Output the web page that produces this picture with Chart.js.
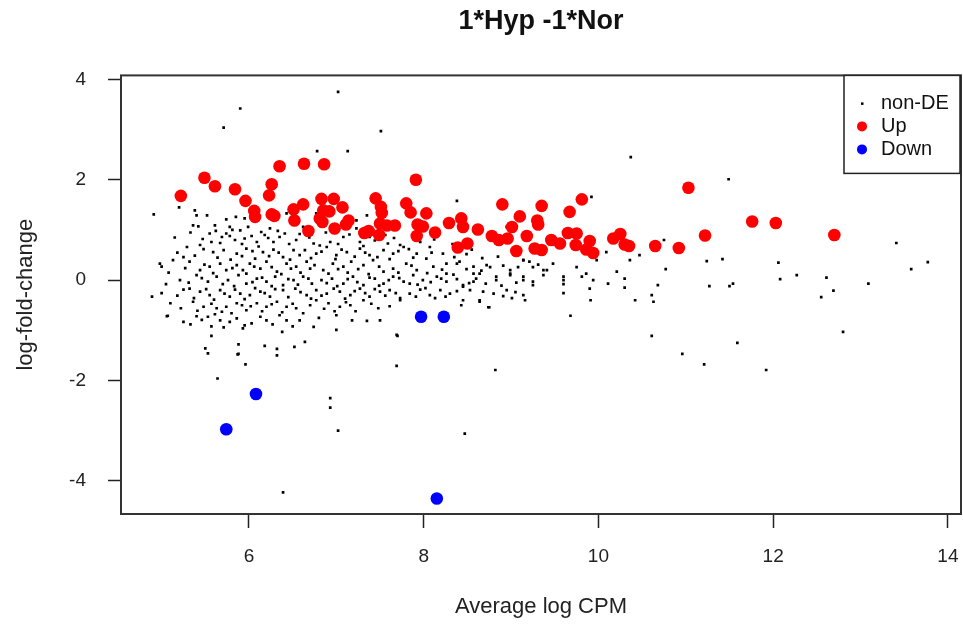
<!DOCTYPE html>
<html>
<head>
<meta charset="utf-8">
<script src="https://cdn.jsdelivr.net/npm/chart.js@4.4.0/dist/chart.umd.min.js"></script>
<style>
  body { margin: 0; background: #fff; }
  #wrap { width: 963px; height: 624px; }
</style>
</head>
<body>
<div id="wrap"><canvas id="myChart" width="963" height="624"></canvas></div>
<script>
// values: [average log CPM, log-fold-change]
const nonDePoints = [
  [4.91,1.31],[5.20,1.45],[5.38,1.39],[5.40,1.29],[5.52,1.29],[5.74,1.21],[5.85,1.26],[5.95,1.23],[6.08,1.19],[6.24,1.23],[6.43,1.33],[6.77,1.33],[7.35,1.29],[7.23,1.19],
  [5.36,1.09],[5.42,1.07],[5.61,1.09],[5.78,1.06],[5.90,0.99],[5.99,1.06],[6.14,0.96],[6.24,1.03],[6.41,0.93],[5.55,0.93],[5.74,0.93],[6.62,1.06],[7.23,1.03],[7.56,0.90],[8.95,1.06],
  [5.29,0.66],[5.44,0.70],[5.57,0.76],[5.67,0.74],[5.78,0.88],[5.84,0.80],[5.95,0.83],[6.09,0.76],[6.18,0.90],[6.28,0.76],[6.35,0.86],[6.54,0.80],[6.74,0.73],[6.93,0.76],[7.08,0.86],[7.27,0.76],[7.38,0.86],[7.59,0.73],[7.73,0.70],[7.96,0.76],[8.07,0.66],
  [5.13,0.40],[5.25,0.46],[5.59,0.56],[5.71,0.60],[5.86,0.53],[5.97,0.63],[6.07,0.43],[6.16,0.56],[6.28,0.61],[6.39,0.46],[6.51,0.60],[6.64,0.60],[6.77,0.53],[6.89,0.66],[7.00,0.50],[7.12,0.56],[7.27,0.63],[7.38,0.50],[7.54,0.60],[7.65,0.53],[7.77,0.66],[7.92,0.53],[8.03,0.43],[8.22,0.53],[9.14,0.40],[9.21,0.37],
  [4.98,0.33],[5.00,0.27],[5.32,0.37],[5.44,0.20],[5.55,0.27],[5.67,0.33],[5.74,0.20],[5.86,0.30],[5.93,0.20],[6.01,0.33],[6.13,0.23],[6.20,0.37],[6.32,0.17],[6.43,0.33],[6.54,0.27],[6.66,0.37],[6.75,0.30],[6.85,0.20],[6.96,0.33],[7.08,0.27],[7.17,0.37],[7.31,0.30],[7.42,0.40],[7.54,0.17],[7.65,0.23],[7.80,0.33],[7.92,0.20],[8.11,0.27],[8.26,0.33],[8.41,0.37],[8.57,0.27],[8.72,0.30],[8.99,0.20],[9.37,0.20],
  [5.21,0.00],[5.40,0.10],[5.53,-0.03],[5.63,0.07],[5.76,0.00],[5.88,0.10],[5.97,-0.07],[6.09,0.03],[6.20,-0.03],[6.30,0.07],[6.39,-0.10],[6.51,0.00],[6.62,0.07],[6.72,-0.07],[6.83,0.00],[6.95,0.03],[7.08,-0.07],[7.19,0.07],[7.31,-0.10],[7.44,0.03],[7.54,-0.07],[7.65,0.07],[7.77,-0.03],[7.88,0.10],[7.99,0.00],[8.15,0.07],[8.26,-0.03],[8.45,-0.10],[8.60,0.03],[8.83,0.00],[8.99,0.10],[9.14,0.00],[9.25,-0.03],
  [4.89,-0.33],[5.25,-0.19],[5.32,-0.17],[5.44,-0.23],[5.55,-0.30],[5.67,-0.20],[5.78,-0.33],[5.90,-0.27],[6.01,-0.30],[6.13,-0.23],[6.24,-0.33],[6.39,-0.20],[6.53,-0.17],[6.66,-0.30],[6.77,-0.20],[6.89,-0.27],[7.04,-0.23],[7.16,-0.30],[7.27,-0.17],[7.38,-0.33],[7.50,-0.23],[7.61,-0.20],[7.73,-0.36],[7.84,-0.27],[7.96,-0.19],[8.07,-0.30],[8.19,-0.20],[8.30,-0.27],[8.45,-0.13],[8.53,-0.20],[8.68,-0.23],[8.95,-0.20],[9.14,-0.30],
  [5.10,-0.46],[5.36,-0.43],[5.48,-0.53],[5.63,-0.56],[5.74,-0.53],[5.86,-0.46],[5.97,-0.60],[6.09,-0.46],[6.20,-0.53],[6.32,-0.43],[6.43,-0.53],[6.54,-0.56],[6.77,-0.40],[6.91,-0.46],[7.04,-0.53],[7.16,-0.50],[7.31,-0.40],[7.48,-0.56],[8.45,-0.40],[8.64,-0.40],[8.74,-0.54],
  [5.06,-0.72],[5.25,-0.83],[5.40,-0.72],[5.53,-0.73],[5.67,-0.80],[5.78,-0.83],[5.95,-0.90],[6.13,-0.73],[6.20,-0.80],[6.35,-0.70],[6.43,-0.80],[6.58,-0.80],[7.00,-0.70],[7.35,-0.81],[7.50,-0.80],
  [5.57,-0.92],[5.57,-1.11],[5.71,-0.94],[5.93,-0.96],[6.38,-1.03],[6.74,-0.93],[7.00,-0.99],[7.69,-1.09],
  [5.50,-1.36],[5.53,-1.46],[5.88,-1.28],[5.88,-1.47],[6.18,-1.31],[6.32,-1.37],[6.32,-1.50],[6.52,-1.33],[6.64,-1.23],
  [7.02,3.75],[5.90,3.42],[5.71,3.04],[7.51,2.97],[6.78,2.57],[7.13,2.57],[10.37,2.45],[11.49,2.01],[8.38,1.58],[9.92,1.66],
  [10.09,0.56],[10.21,0.17],[10.47,0.50],[10.75,0.80],[10.77,0.22],[10.68,-0.10],[10.30,0.03],[9.86,0.13],[9.94,0.00],[9.60,0.07],[9.41,0.20],[9.60,-0.26],[9.60,-0.08],[9.91,-0.40],[10.30,-0.15],[10.42,-0.40],[10.63,-0.43],[10.61,-0.30],[9.68,-0.71],[10.61,-1.11],[10.96,-1.47],
  [7.70,-1.11],[7.69,-1.71],[8.82,-1.79],[8.47,-3.06],[8.75,-0.54],[8.64,-0.43],[8.43,-0.50],[5.64,-1.96],[5.96,-1.68],[5.87,-1.48],[6.93,-2.35],[6.93,-2.54],[7.02,-3.00],[6.39,-4.23],[5.00,-0.26],[5.07,-0.71],
  [11.27,-0.12],[11.50,-0.12],[11.54,-0.07],[12.08,0.02],[12.27,0.10],[12.61,0.05],[12.69,-0.21],[12.55,-0.34],[13.09,-0.07],[12.80,-1.03],[11.59,-1.25],[11.21,-1.68],[11.92,-1.79],
  [13.41,0.74],[13.77,0.36],[13.58,0.22],[11.24,0.38],[11.42,0.42],[12.06,0.35],
  [9.90,-0.17],[10.11,-0.07],[9.81,0.07],[8.91,-0.32],[9.01,-0.36],[9.16,-0.40],[9.25,-0.10],[9.60,0.00],[9.37,0.10],[9.14,0.07],[8.64,0.13],[8.57,-0.03],[8.13,-0.36],[7.73,-0.40],[7.84,-0.07],
  [10.36,0.40],[9.98,0.40],[9.75,0.26],[9.48,0.33],[9.25,0.26],[9.14,0.40],[8.99,0.13],[8.83,0.07],[8.76,0.26],[8.57,0.13],[8.38,0.33],[8.26,0.13],
  [5.15,0.85],[5.33,0.95],[5.47,0.82],[5.62,0.98],[5.69,0.86],[5.81,1.00],[5.92,0.72],[6.03,0.88],[6.11,0.67],[6.22,0.84],[6.33,0.98],[6.46,0.72],[6.58,0.92],[6.69,0.85],[6.81,0.69],[6.88,0.95],[7.02,0.72],[7.15,0.91],[7.31,0.68],[7.44,0.79],[7.66,0.84],[7.83,0.62],[8.12,0.81],[8.33,0.72],[8.55,0.61],
  [5.18,0.55],[5.38,0.49],[5.48,0.62],[5.64,0.45],[5.79,0.41],[5.92,0.48],[6.04,0.58],[6.23,0.48],[6.34,0.55],[6.47,0.41],[6.58,0.50],[6.71,0.44],[6.83,0.57],[6.99,0.42],[7.06,0.61],[7.21,0.47],[7.33,0.55],[7.47,0.46],[7.61,0.42],[7.71,0.58],[7.88,0.45],[8.09,0.55],[8.35,0.46],[8.49,0.52],[8.67,0.44],[8.85,0.47],[9.05,0.52],
  [5.08,0.15],[5.27,0.24],[5.49,0.31],[5.59,0.14],[5.81,0.24],[5.97,0.13],[6.06,0.27],[6.26,0.26],[6.37,0.12],[6.48,0.23],[6.59,0.15],[6.70,0.23],[6.91,0.13],[7.02,0.22],[7.13,0.15],[7.25,0.22],[7.37,0.12],[7.49,0.27],[7.71,0.15],[7.86,0.29],[8.04,0.14],[8.21,0.21],[8.34,0.11],[8.49,0.22],[8.66,0.19],[8.91,0.29],[9.08,0.26],[9.31,0.31],
  [5.05,-0.08],[5.31,-0.05],[5.46,0.04],[5.70,-0.08],[5.83,-0.12],[6.04,-0.04],[6.15,0.05],[6.26,-0.12],[6.45,0.02],[6.56,-0.09],[6.68,0.03],[6.89,-0.06],[7.01,-0.12],[7.13,0.02],[7.24,-0.04],[7.38,0.05],[7.49,-0.11],[7.60,0.00],[7.72,0.04],[7.93,-0.09],[8.08,-0.04],[8.20,0.03],[8.38,0.02],[8.52,-0.06],[8.71,-0.07],[8.89,-0.11],[9.06,-0.05],
  [5.18,-0.31],[5.37,-0.36],[5.51,-0.18],[5.60,-0.39],[5.72,-0.27],[5.84,-0.19],[5.95,-0.38],[6.07,-0.16],[6.18,-0.26],[6.30,-0.18],[6.45,-0.34],[6.59,-0.24],[6.71,-0.37],[6.83,-0.31],[6.97,-0.17],[7.10,-0.37],[7.21,-0.22],[7.33,-0.26],[7.44,-0.18],[7.56,-0.31],[7.68,-0.26],[7.91,-0.33],[8.02,-0.16],[8.25,-0.33],[8.38,-0.22],[8.80,-0.27],[9.05,-0.24],
  [5.22,-0.56],[5.41,-0.61],[5.57,-0.47],[5.69,-0.63],[5.80,-0.66],[5.92,-0.50],[6.02,-0.52],[6.15,-0.62],[6.26,-0.48],[6.38,-0.64],[6.50,-0.47],[6.62,-0.66],[6.70,-0.50],[6.86,-0.57],[6.98,-0.62],[7.11,-0.44],[7.22,-0.62],[7.40,-0.47],[7.61,-0.52],
  [5.33,-0.88],[5.46,-0.79],[5.61,-0.68],[5.86,-0.76],[6.03,-0.86],[6.27,-0.88],[6.50,-0.92],[6.80,-0.75],[7.18,-0.80]
];

const upPoints = [
  [5.22,1.68],[5.49,2.04],[5.61,1.87],[5.84,1.81],[5.96,1.58],[6.06,1.38],[6.07,1.26],[6.35,2.27],[6.63,2.32],[6.86,2.31],
  [6.26,1.91],[6.23,1.69],[6.26,1.31],[6.29,1.28],[6.51,1.41],[6.52,1.19],[6.62,1.51],[6.68,0.98],[6.83,1.62],[6.97,1.62],
  [6.85,1.39],[6.92,1.37],[6.81,1.23],[6.84,1.16],[7.07,1.45],[6.98,1.03],[7.14,1.19],[7.11,1.11],[7.45,1.63],[7.51,1.46],
  [7.52,1.34],[7.50,1.13],[7.67,1.09],[7.58,1.09],[7.37,0.98],[7.32,0.94],[7.49,0.90],[7.91,2.00],[7.80,1.53],[7.85,1.35],
  [8.03,1.33],[7.93,1.11],[7.99,1.07],[7.92,0.88],[8.13,0.95],[8.29,1.14],[8.43,1.23],[8.45,1.06],[8.39,0.65],[8.50,0.73],
  [8.62,1.01],[8.90,1.51],[9.10,1.27],[9.01,1.06],[8.78,0.88],[8.86,0.80],[8.96,0.83],[9.06,0.58],[9.35,1.48],[9.30,1.19],
  [9.31,1.11],[9.18,0.88],[9.27,0.63],[9.35,0.60],[9.46,0.80],[9.56,0.73],[9.67,1.36],[9.65,0.94],[9.75,0.93],[9.74,0.70],
  [9.81,1.61],[9.90,0.78],[9.86,0.61],[9.94,0.54],[10.17,0.83],[10.25,0.92],[10.30,0.71],[10.35,0.68],[10.65,0.68],[10.92,0.64],
  [11.03,1.84],[11.22,0.89],[11.76,1.17],[12.03,1.14],[12.70,0.90]
];

const downPoints = [
  [6.08,-2.27],[5.74,-2.97],[7.97,-0.73],[8.23,-0.73],[8.15,-4.35]
];

const seriesNames = ['non-DE', 'Up', 'Down'];
const seriesColors = ['#000000', '#ff0000', '#0000ff'];
const xTicks = [6, 8, 10, 12, 14];
const yTicks = [-4, -2, 0, 2, 4];

const toXY = pts => pts.map(p => ({ x: p[0], y: p[1] }));
const FONT = '"Liberation Sans", Arial, sans-serif';

// box around the plot region + legend in the top right corner, like base R
const boxAndLegend = {
  id: 'boxAndLegend',
  afterDraw(chart) {
    const { ctx, chartArea } = chart;
    ctx.save();
    ctx.strokeStyle = '#333';
    ctx.lineWidth = 2;
    ctx.strokeRect(chartArea.left, chartArea.top, chartArea.right - chartArea.left, chartArea.bottom - chartArea.top);

    const w = 116, h = 98;
    const lx = chartArea.right - w - 1, ly = chartArea.top;
    ctx.fillStyle = '#fff';
    ctx.fillRect(lx, ly, w, h);
    ctx.lineWidth = 1.5;
    ctx.strokeStyle = '#222';
    ctx.strokeRect(lx, ly, w, h);
    ctx.font = '20px ' + FONT;
    ctx.textBaseline = 'middle';
    chart.data.datasets.forEach(ds => {
      const idx = seriesNames.indexOf(ds.label);
      const y = ly + 28 + idx * 23;
      ctx.fillStyle = ds.backgroundColor;
      if (idx === 0) {
        ctx.fillRect(lx + 17, y - 1, 2.5, 2.5);
      } else {
        ctx.beginPath();
        ctx.arc(lx + 18, y, 5, 0, Math.PI * 2);
        ctx.fill();
      }
      ctx.fillStyle = '#111';
      ctx.fillText(ds.label, lx + 37, y);
    });
    ctx.restore();
  }
};

const ctx = document.getElementById('myChart');
const myChart = new Chart(ctx, {
  type: 'scatter',
  data: {
    datasets: [
      {
        label: seriesNames[1],
        data: toXY(upPoints),
        backgroundColor: seriesColors[1],
        pointRadius: 6.3,
        pointBorderWidth: 0,
        order: 1
      },
      {
        label: seriesNames[2],
        data: toXY(downPoints),
        backgroundColor: seriesColors[2],
        pointRadius: 6.3,
        pointBorderWidth: 0,
        order: 2
      },
      {
        label: seriesNames[0],
        data: toXY(nonDePoints),
        backgroundColor: seriesColors[0],
        pointStyle: 'rect',
        pointRadius: 1.9,
        pointBorderWidth: 0,
        order: 3
      }
    ]
  },
  options: {
    responsive: false,
    animation: false,
    layout: { autoPadding: false, padding: { left: 0, right: 2, top: 0, bottom: 0 } },
    plugins: {
      legend: { display: false },
      tooltip: { enabled: false },
      title: {
        display: true,
        fullSize: false,
        text: '1*Hyp -1*Nor',
        color: '#111',
        font: { family: FONT, size: 27, weight: 'bold' },
        padding: { top: 5, bottom: 38 }
      }
    },
    scales: {
      x: {
        type: 'linear',
        min: 4.535,
        max: 14.15,
        afterFit: s => { s.height = 110; s.paddingLeft = 0; s.paddingRight = 0; },
        afterBuildTicks: s => { s.ticks = xTicks.map(v => ({ value: v })); },
        ticks: { color: '#222', font: { family: FONT, size: 19 }, padding: 17, maxRotation: 0 },
        grid: { drawOnChartArea: false, drawTicks: true, tickLength: 14, tickColor: '#222', tickWidth: 1.5 },
        border: { display: false },
        title: { display: true, text: 'Average log CPM', color: '#222', font: { family: FONT, size: 22 }, padding: { bottom: 4 } }
      },
      y: {
        type: 'linear',
        min: -4.66,
        max: 4.08,
        afterFit: s => { s.width = 121; s.paddingTop = 0; s.paddingBottom = 0; },
        afterBuildTicks: s => { s.ticks = yTicks.map(v => ({ value: v })); },
        ticks: { color: '#222', font: { family: FONT, size: 19 }, padding: 22 },
        grid: { drawOnChartArea: false, drawTicks: true, tickLength: 13, tickColor: '#222', tickWidth: 1.5 },
        border: { display: false },
        title: { display: true, text: 'log-fold-change', color: '#222', font: { family: FONT, size: 22 }, padding: { top: 13 } }
      }
    }
  },
  plugins: [boxAndLegend]
});
</script>
</body>
</html>
